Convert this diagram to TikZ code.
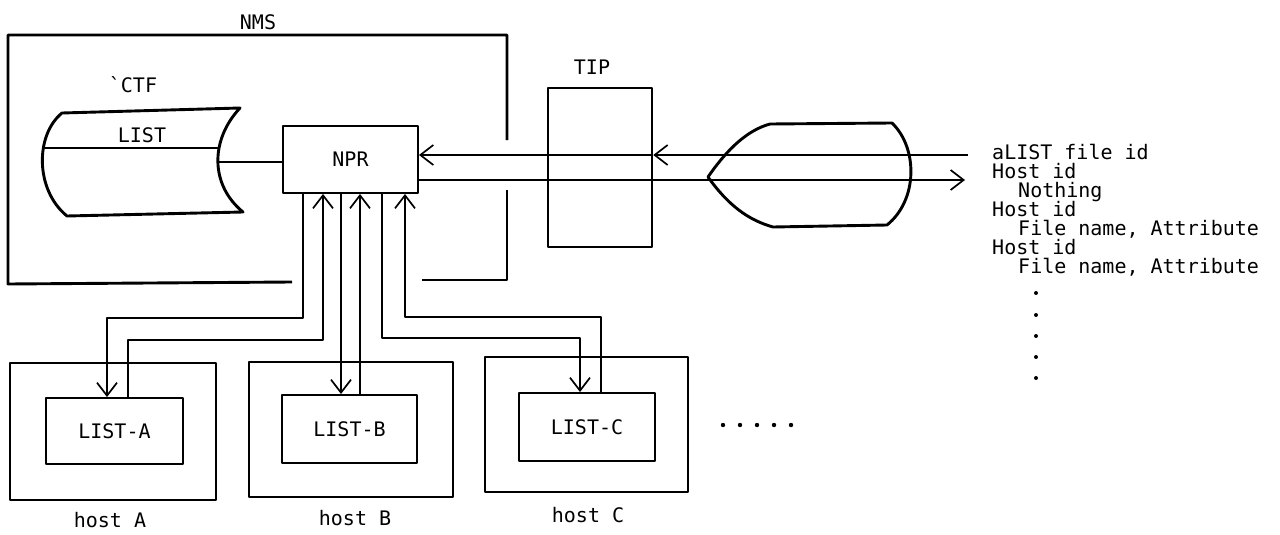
\documentclass[tikz,border=0pt]{standalone}
\usepackage{fontspec}
\newfontfamily\dfont{DejaVu Sans Mono}
\usetikzlibrary{arrows.meta}
\tikzset{
  lbl/.style={font=\dfont\fontsize{20}{19.5}\selectfont, inner sep=0pt},
  heavy/.style={line width=2.9pt},
  light/.style={line width=1.9pt},
  wire/.style={line width=1.7pt},
  tip/.tip={Straight Barb[length=13pt,width=20pt,line width=1.7pt]},
  hostbox/.style={draw, heavy, inner sep=0pt},
  listbox/.style={draw, light, inner sep=0pt, lbl},
}
\begin{document}
\begin{tikzpicture}[x=1pt,y=-1pt, line join=round]
\useasboundingbox (0,0) rectangle (1280,535);

% NMS enclosure (with gaps)
\draw[heavy] (507,140) -- (507,35) -- (8,35) -- (8,284) -- (292,282);
\draw[heavy] (422,280) -- (507,280) -- (507,190);
\node[lbl] (nms) at (258,22) {NMS};

% CTF drum
\draw[heavy] (62,113) -- (240,108) .. controls (210,140) and (210,185) .. (243,212)
  -- (67,216) .. controls (35,190) and (35,135) .. (62,113) -- cycle;
\draw[light] (42,148) -- (220,148);
\node[lbl] (ctf) at (133,85) {`CTF};
\node[lbl] (list) at (142,135) {LIST};
\coordinate (drumR) at (218,162);

% NPR
\node[listbox, minimum width=135pt, minimum height=67pt] (NPR) at (350.5,159.5) {NPR};

% TIP
\node[draw, line width=2.5pt, minimum width=104pt, minimum height=159pt, inner sep=0pt] (TIP) at (600,167.5) {};
\node[lbl] (tiplbl) at (592,67) {TIP};

% terminal shape
\draw[heavy] (708,177) .. controls (728,148) and (748,130) .. (770,124) -- (892,123)
  .. controls (918,148) and (918,200) .. (887,225) -- (773,227)
  .. controls (748,220) and (728,205) .. (708,177) -- cycle;

% hosts
\node[hostbox, minimum width=206pt, minimum height=137pt] (hostA) at (113,431.5) {};
\node[listbox, minimum width=137pt, minimum height=66pt] (listA) at (114.5,431) {LIST-A};
\node[lbl] (hA) at (110,520) {host A};

\node[hostbox, minimum width=204pt, minimum height=135pt] (hostB) at (351,429.5) {};
\node[listbox, minimum width=135pt, minimum height=68pt] (listB) at (349.5,429) {LIST-B};
\node[lbl] (hB) at (355,518) {host B};

\node[hostbox, minimum width=203pt, minimum height=135pt] (hostC) at (586.5,424.5) {};
\node[listbox, minimum width=136pt, minimum height=68pt] (listC) at (587,427) {LIST-C};
\node[lbl] (hC) at (588,515) {host C};

\foreach \x in {723,740,757,774,791} \fill (\x,425) circle (2.2pt);

% drum to NPR
\draw[wire] (drumR) -- (drumR -| NPR.west);

% TIP lines
\coordinate (inR) at (968,155);
\coordinate (outR) at (965,180);
\draw[wire,-tip] (inR) -- (inR -| TIP.east);
\draw[wire,-tip] (inR -| TIP.east) -- (inR -| NPR.east);
\draw[wire,-tip] (outR -| NPR.east) -- (outR);

% wires NPR <-> hosts
\coordinate (ad1) at (303,318);
\coordinate (ad2) at (107,318);
\coordinate (au1) at (128,340);
\coordinate (au2) at (323,340);
\coordinate (bd) at (341,300);
\coordinate (bu) at (360,300);
\coordinate (cd1) at (382,338);
\coordinate (cd2) at (580,338);
\coordinate (cu1) at (601,317);
\coordinate (cu2) at (405,317);
\draw[wire,-tip] (NPR.south -| ad1) -- (ad1) -- (ad2) -- (ad2 |- listA.north);
\draw[wire,-tip] (listA.north -| au1) -- (au1) -- (au2) -- (au2 |- NPR.south);
\draw[wire,-tip] (NPR.south -| bd) -- (listB.north -| bd);
\draw[wire,-tip] (listB.north -| bu) -- (NPR.south -| bu);
\draw[wire,-tip] (NPR.south -| cd1) -- (cd1) -- (cd2) -- (cd2 |- listC.north);
\draw[wire,-tip] (listC.north -| cu1) -- (cu1) -- (cu2) -- (cu2 |- NPR.south);

% message list
\node[lbl, anchor=base west] (t1) at (992,159) {aLIST file id};
\node[lbl, anchor=base west] (t2) at (992,178) {Host id};
\node[lbl, anchor=base west] (t3) at (1018,197) {Nothing};
\node[lbl, anchor=base west] (t4) at (992,216) {Host id};
\node[lbl, anchor=base west] (t5) at (1018,235) {File name, Attribute};
\node[lbl, anchor=base west] (t6) at (992,254) {Host id};
\node[lbl, anchor=base west] (t7) at (1018,273) {File name, Attribute};
\foreach \y in {293,315,336,357,378} \fill (1036,\y) circle (2pt);
\end{tikzpicture}
\end{document}
